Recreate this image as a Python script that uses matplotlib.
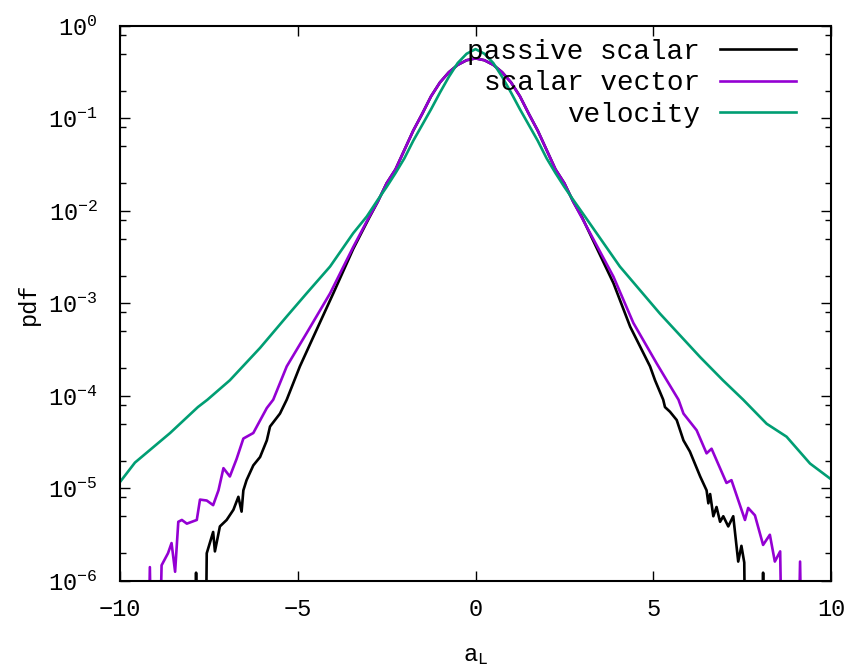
import numpy as np
import matplotlib.pyplot as plt
from matplotlib.ticker import FixedLocator, FuncFormatter, NullFormatter

plt.rcParams['font.family'] = ['Liberation Mono', 'DejaVu Sans Mono']

# values, stored as log10(pdf); -9 means "below the axis"
x_passive = [-7.95, -7.86, -7.77, -7.65, -7.56, -7.38, -7.33, -7.19, -7.0, -6.81,
             -6.67, -6.58, -6.53, -6.44, -6.25, -6.06, -5.87, -5.78, -5.5, -5.31,
             -4.94, -4.56, -4.0, -3.44, -3.0, -2.75, -2.5, -2.25, -2.0, -1.75,
             -1.5, -1.25, -1.0, -0.75, -0.5, -0.25, 0.0, 0.25, 0.5, 0.75,
             1.0, 1.25, 1.5, 1.75, 2.0, 2.25, 2.5, 2.75, 3.0, 3.88,
             4.35, 4.91, 5.05, 5.28, 5.33, 5.47, 5.66, 5.85, 6.03, 6.32,
             6.5, 6.55, 6.6, 6.69, 6.78, 6.88, 6.97, 7.11, 7.25, 7.39,
             7.48, 7.56, 7.65, 7.99, 8.09, 8.18]
lg_passive = [-9, -5.91, -9, -9, -5.70, -5.47, -5.68, -5.41, -5.34, -5.23,
              -5.09, -5.25, -5.02, -4.91, -4.75, -4.66, -4.48, -4.33, -4.19, -4.04,
              -3.68, -3.36, -2.89, -2.41, -2.08, -1.90, -1.70, -1.55, -1.34, -1.13,
              -0.95, -0.76, -0.61, -0.50, -0.42, -0.37, -0.35, -0.37, -0.42, -0.50,
              -0.61, -0.76, -0.95, -1.13, -1.34, -1.55, -1.70, -1.90, -2.07, -2.78,
              -3.25, -3.68, -3.83, -4.04, -4.12, -4.17, -4.26, -4.48, -4.60, -4.87,
              -5.02, -5.16, -5.06, -5.30, -5.20, -5.36, -5.30, -5.41, -5.30, -5.79,
              -5.62, -5.80, -9, -9, -5.91, -9]

x_vector = [-9.30, -9.16, -9.02, -8.83, -8.65, -8.55, -8.45, -8.36, -8.26, -8.12,
            -7.84, -7.75, -7.56, -7.38, -7.23, -7.09, -6.91, -6.72, -6.53, -6.25,
            -6.11, -5.87, -5.69, -5.31, -4.75, -4.09, -3.44, -3.0, -2.75, -2.5,
            -2.25, -2.0, -1.75, -1.5, -1.25, -1.0, -0.75, -0.5, -0.25, 0.0,
            0.25, 0.5, 0.75, 1.0, 1.25, 1.5, 1.75, 2.0, 2.25, 2.5,
            2.75, 3.03, 3.88, 4.44, 5.1, 5.38, 5.71, 5.85, 6.22, 6.5,
            6.64, 7.06, 7.2, 7.58, 7.67, 7.86, 8.09, 8.28, 8.42, 8.57,
            8.71, 8.97, 9.13, 9.27]
lg_vector = [-9, -5.85, -9, -5.83, -5.70, -5.59, -5.90, -5.36, -5.34, -5.38,
             -5.34, -5.12, -5.13, -5.18, -5.02, -4.78, -4.87, -4.68, -4.46, -4.40,
             -4.30, -4.13, -4.04, -3.68, -3.32, -2.89, -2.39, -2.07, -1.90, -1.70,
             -1.55, -1.34, -1.13, -0.95, -0.76, -0.61, -0.50, -0.42, -0.37, -0.35,
             -0.37, -0.42, -0.50, -0.61, -0.76, -0.95, -1.13, -1.34, -1.55, -1.70,
             -1.90, -2.10, -2.71, -3.21, -3.65, -3.83, -4.04, -4.19, -4.37, -4.62,
             -4.57, -4.94, -4.91, -5.34, -5.21, -5.29, -5.61, -5.50, -5.79, -5.68,
             -9, -9, -5.79, -9]

x_velocity = [-10.0, -9.58, -8.59, -7.81, -7.54, -6.91, -6.06, -5.31, -4.75, -4.09,
              -3.44, -3.06, -2.75, -2.5, -2.25, -2.0, -1.75, -1.5, -1.25, -1.0,
              -0.75, -0.5, -0.25, 0.0, 0.25, 0.5, 0.75, 1.0, 1.25, 1.5,
              1.75, 2.0, 2.25, 2.5, 2.75, 3.08, 4.06, 5.19, 6.32, 6.96,
              7.53, 8.19, 8.75, 9.41, 10.0]
lg_velocity = [-4.93, -4.72, -4.40, -4.12, -4.04, -3.83, -3.48, -3.14, -2.89, -2.60,
               -2.24, -2.06, -1.88, -1.74, -1.59, -1.43, -1.24, -1.07, -0.90, -0.72,
               -0.55, -0.40, -0.30, -0.25, -0.30, -0.40, -0.55, -0.72, -0.90, -1.07,
               -1.24, -1.43, -1.59, -1.74, -1.88, -2.06, -2.60, -3.11, -3.58, -3.83,
               -4.04, -4.30, -4.44, -4.73, -4.90]

labels = ['passive scalar', 'scalar vector', 'velocity']
colors = ['#000000', '#9400d3', '#009e73']

fig = plt.figure(figsize=(8.56, 6.67), dpi=100)
ax = fig.add_axes([120 / 856, 1 - 581 / 667, 711 / 856, 555 / 667])

series = [(x_passive, lg_passive), (x_vector, lg_vector), (x_velocity, lg_velocity)]
for (xs, lg), lab, c in zip(series, labels, colors):
    ax.plot(xs, 10.0 ** np.array(lg), color=c, lw=1.9, label=lab)

ax.set_yscale('log')
ax.set_xlim(-10, 10)
ax.set_ylim(1e-6, 1)

ax.xaxis.set_major_locator(FixedLocator([-10, -5, 0, 5, 10]))
ax.xaxis.set_major_formatter(FuncFormatter(lambda v, p: '%d' % v if v >= 0 else '\u2212%d' % -v))
ax.yaxis.set_major_locator(FixedLocator([10.0 ** k for k in range(-6, 1)]))
ax.yaxis.set_major_formatter(FuncFormatter(lambda v, p: r'$\mathregular{10^{%d}}$' % round(np.log10(v))))
minors = [m * 10.0 ** k for k in range(-6, 0) for m in (2, 5, 8)]
ax.yaxis.set_minor_locator(FixedLocator(minors))
ax.yaxis.set_minor_formatter(NullFormatter())

ax.tick_params(which='both', direction='in', top=True, right=True, labelsize=17, colors='#000000')
ax.tick_params(which='major', length=7.5, width=1.0)
ax.tick_params(which='minor', length=4, width=1.0)
ax.tick_params(axis='y', pad=16)
ax.tick_params(axis='x', pad=12)
for s in ax.spines.values():
    s.set_linewidth(1.5)

ax.set_xlabel(r'$\mathregular{a_L}$', fontsize=17, labelpad=17)
ax.set_ylabel('pdf', fontsize=17, labelpad=6)

ax.legend(loc='upper right', bbox_to_anchor=(0.978, 1.012), frameon=False, markerfirst=False,
          fontsize=20, handlelength=2.75, handletextpad=0.7, labelspacing=0.2, borderpad=0.2)

fig.savefig('out.png', dpi=100)
